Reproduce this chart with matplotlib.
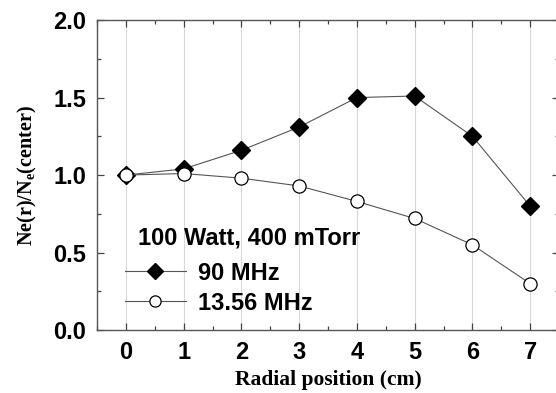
import matplotlib
matplotlib.use('Agg')
import matplotlib.pyplot as plt
from matplotlib.ticker import MultipleLocator

plt.rcParams['font.family'] = ['Liberation Sans', 'DejaVu Sans']
plt.rcParams['font.weight'] = 'bold'
plt.rcParams['xtick.labelsize'] = 17
plt.rcParams['ytick.labelsize'] = 17
plt.rcParams['mathtext.fontset'] = 'custom'
plt.rcParams['mathtext.bf'] = 'Liberation Serif:bold'
plt.rcParams['mathtext.rm'] = 'Liberation Serif:bold'

# data
radius = [0, 1, 2, 3, 4, 5, 6, 7]
ne_90mhz = [1.00, 1.04, 1.16, 1.31, 1.50, 1.51, 1.25, 0.80]
ne_1356mhz = [1.00, 1.01, 0.98, 0.93, 0.83, 0.72, 0.55, 0.30]

SERIF = 'Liberation Serif'
LINE = '#555555'

fig = plt.figure(figsize=(5.56, 3.93), dpi=100)
ax = fig.add_axes([0.1745, 0.160, 0.831, 0.789])

ax.plot(radius, ne_90mhz, color=LINE, lw=0.8, marker='D',
        ms=9, mfc='black', mec='black', label='90 MHz')
ax.plot(radius, ne_1356mhz, color=LINE, lw=0.8, marker='o',
        ms=9.5, mfc='white', mec='black', mew=0.9, label='13.56 MHz')

ax.set_xlim(-0.5, 7.5)
ax.set_ylim(0, 2.0)
ax.xaxis.set_major_locator(MultipleLocator(1))
ax.xaxis.set_minor_locator(MultipleLocator(0.5))
ax.yaxis.set_major_locator(MultipleLocator(0.5))
ax.yaxis.set_minor_locator(MultipleLocator(0.25))
ax.grid(axis='x', which='major', color='#d8d8d8', lw=0.8)
ax.set_axisbelow(True)

ax.tick_params(which='both', direction='in', top=True, right=True,
               color='#444444', width=0.9)
ax.tick_params(which='major', length=5, pad=8)
ax.tick_params(which='minor', length=3)
for sp in ax.spines.values():
    sp.set_color('#555555')
    sp.set_linewidth(1.0)

ax.set_xlabel('Radial position (cm)', fontfamily=SERIF, fontweight='bold',
              fontsize=15.5, labelpad=4)
ax.set_ylabel(r'Ne(r)/N$_\mathbf{e}$(center)', fontfamily=SERIF,
              fontweight='bold', fontsize=14.5, labelpad=10)

# legend block
ax.text(0.089, 0.297, '100 Watt, 400 mTorr', transform=ax.transAxes,
        ha='left', va='center', fontsize=17, fontweight='bold')
ax.legend(loc='lower left', bbox_to_anchor=(0.06, 0.05), frameon=False,
          handlelength=2.6, markerscale=0.85, fontsize=17,
          labelspacing=0.3, handletextpad=0.5, borderaxespad=0,
          borderpad=0)

fig.savefig('out.png', dpi=100, facecolor='white')
